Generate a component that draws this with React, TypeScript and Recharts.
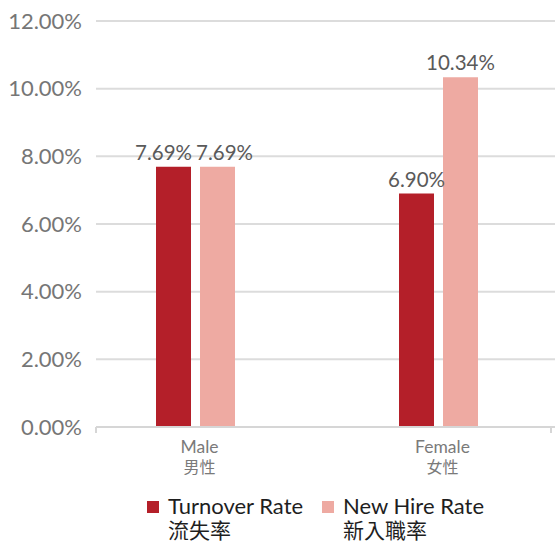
import React from 'react';
import { BarChart, Bar, XAxis, YAxis, CartesianGrid, Legend, LabelList } from 'recharts';

const categoriesEn = ['Male', 'Female'];
const categoriesZh = ['男性', '女性'];
const turnoverRate = [7.69, 6.9];
const newHireRate = [7.69, 10.34];
const yTicks = [0, 2, 4, 6, 8, 10, 12];
const gridTicks = [0, 1, 2];

const series = [
  { key: 'turnover', en: 'Turnover Rate', zh: '流失率', color: '#b41f29', nudge: -10 },
  { key: 'newHire', en: 'New Hire Rate', zh: '新入職率', color: '#eeaaa2', nudge: 7 },
];

const data = categoriesEn.map((en, i) => ({
  name: en,
  zh: categoriesZh[i],
  turnover: turnoverRate[i],
  newHire: newHireRate[i],
}));

const FONT = "Lato, 'Noto Sans CJK TC', sans-serif";

const CategoryTick = ({ x, y, payload, index }: any) => (
  <text x={x + 4} y={y} textAnchor="middle" fill="#7a7a7a" fontSize={17.5} fontFamily={FONT}>
    <tspan x={x + 4} y={y + 25}>{payload.value}</tspan>
    <tspan x={x + 4} y={y + 45} fontSize={16}>{categoriesZh[index]}</tspan>
  </text>
);

const TickMark = ({ x, y }: any) => (
  <line x1={x} x2={x} y1={y} y2={y + 6} stroke="#d6d6d6" strokeWidth={2} />
);

// labels of equal bars in the first group sit apart, as in the original
const makeLabel = (nudge: number) => (props: any) => {
  const { x, y, width, value, index } = props;
  const dx = index === 0 ? nudge : 0;
  return (
    <text x={x + width / 2 + dx} y={y - 7} textAnchor="middle" fill="#5a5a5a"
      fontSize={20.5} fontFamily={FONT}>
      {`${Number(value).toFixed(2)}%`}
    </text>
  );
};

const LegendContent = () => (
  <div style={{ display: 'flex', height: 50, paddingLeft: 147, fontFamily: FONT, color: '#1e1e1e' }}>
    {series.map((s) => (
      <div key={s.key} style={{ display: 'flex', alignItems: 'flex-start', width: 175 }}>
        <span style={{ width: 12, height: 12, background: s.color, marginTop: 7, marginRight: 9, flexShrink: 0 }} />
        <div style={{ lineHeight: '24px', textAlign: 'left', whiteSpace: 'nowrap' }}>
          <div style={{ fontSize: 22 }}>{s.en}</div>
          <div style={{ fontSize: 21 }}>{s.zh}</div>
        </div>
      </div>
    ))}
  </div>
);

const App = () => (
  <div style={{ position: 'absolute', left: 0, top: 0, width: 555, height: 544, background: '#fff' }}>
    <BarChart width={555} height={544} data={data}
      margin={{ top: 21, right: 0, left: 0, bottom: 16 }} barSize={35} barGap={9}>
      <CartesianGrid xAxisId="b" vertical={false} stroke="#dcdcdc" strokeWidth={2} />
      <XAxis xAxisId="a" type="number" domain={[0, 3]} ticks={gridTicks}
        height={1} tick={<TickMark />} tickLine={false} axisLine={{ stroke: '#d6d6d6', strokeWidth: 2 }}
        tickSize={0} tickMargin={0} allowDataOverflow />
      <XAxis xAxisId="b" dataKey="name" height={50} padding={{ left: -22, right: -5 }}
        axisLine={false} tickLine={false} tickSize={0} tickMargin={0}
        tick={<CategoryTick />} interval={0} />
      <YAxis width={96} domain={[0, 12]} ticks={yTicks} axisLine={false} tickLine={false}
        tickSize={0} tickMargin={14} tickFormatter={(v: number) => `${v.toFixed(2)}%`}
        tick={{ fill: '#767676', fontSize: 22, fontFamily: FONT }} />
      <Legend verticalAlign="bottom" content={<LegendContent />}
        wrapperStyle={{ top: 494, left: 0, width: 555 }} />
      {series.map((s) => (
        <Bar key={s.key} xAxisId="b" dataKey={s.key} name={s.en} fill={s.color} isAnimationActive={false}>
          <LabelList dataKey={s.key} content={makeLabel(s.nudge)} />
        </Bar>
      ))}
    </BarChart>
  </div>
);

export default App;
